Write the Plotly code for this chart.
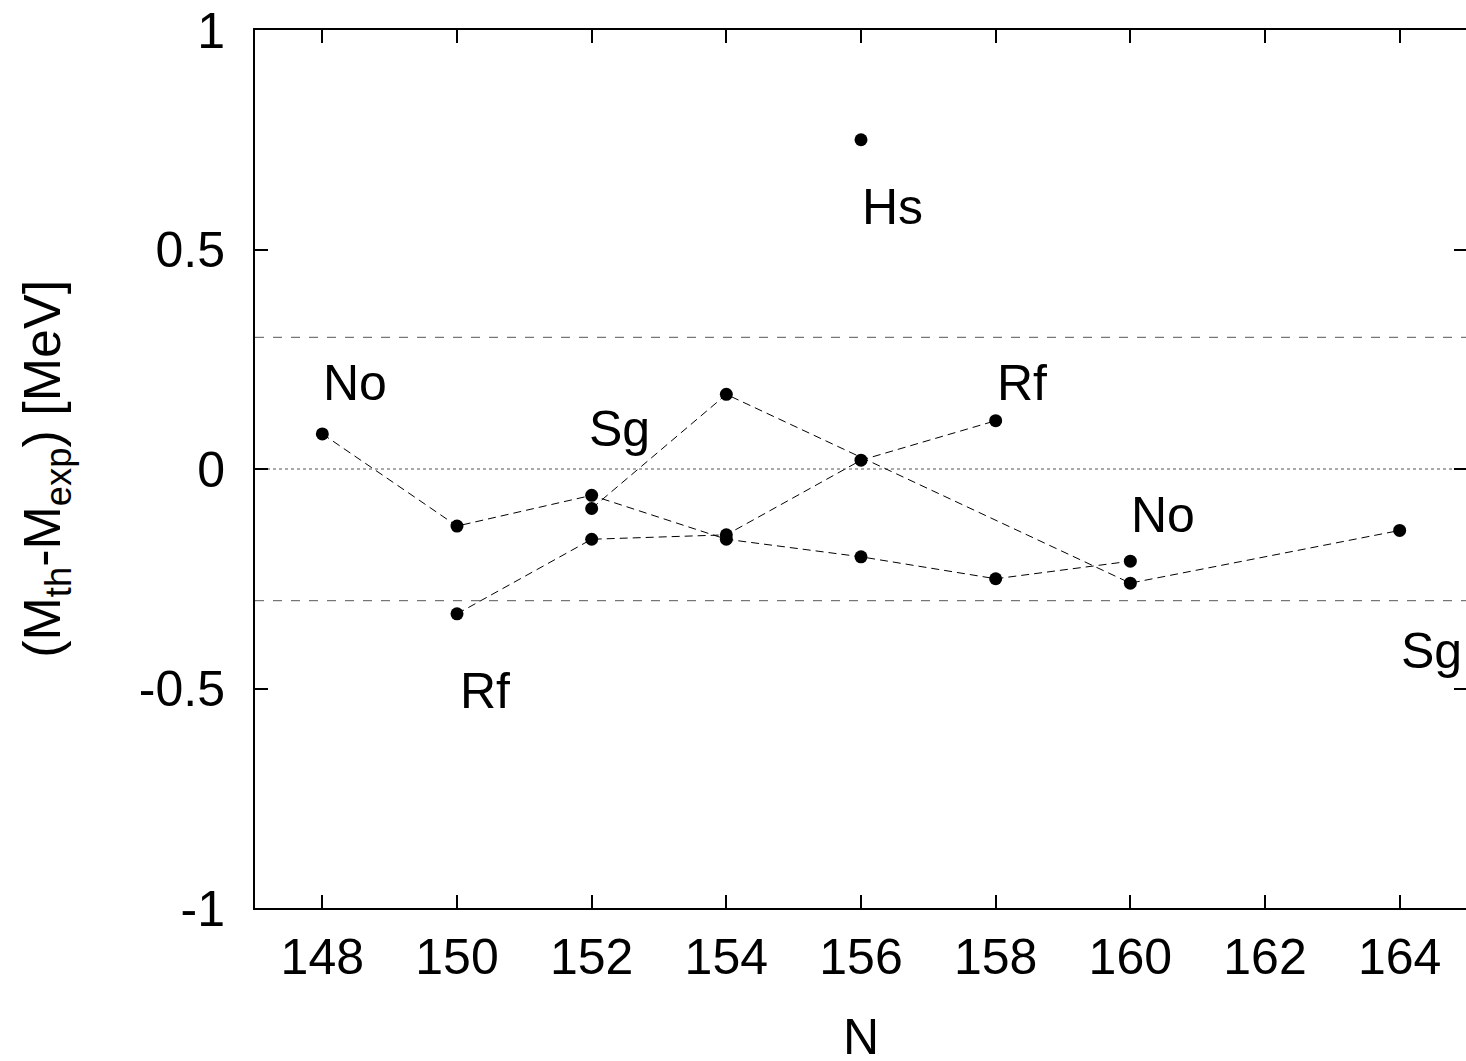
import plotly.graph_objects as go

# Data
no_N = [148, 150, 152, 154, 156, 158, 160]
no_dM = [0.08, -0.13, -0.06, -0.16, -0.20, -0.25, -0.21]
rf_N = [150, 152, 154, 156, 158]
rf_dM = [-0.33, -0.16, -0.15, 0.02, 0.11]
sg_N = [152, 154, 160, 164]
sg_dM = [-0.09, 0.17, -0.26, -0.14]
hs_N = [156]
hs_dM = [0.75]

labels = ["No", "Rf", "Sg", "Rf", "No", "Sg", "Hs"]
label_x = [148.49, 158.39, 152.42, 150.42, 160.48, 164.47, 156.47]
label_y = [0.196, 0.196, 0.091, -0.506, -0.105, -0.415, 0.597]

x_ticks = [148, 150, 152, 154, 156, 158, 160, 162, 164]
y_ticks = [-1, -0.5, 0, 0.5, 1]
y_ticklabels = ["-1", "-0.5", "0", "0.5", "1"]

FONT = "Liberation Sans, Arial, Helvetica, sans-serif"

fig = go.Figure()

# reference lines
for yv, dash in [(0.3, "dash"), (-0.3, "dash"), (0.0, "dot")]:
    fig.add_hline(y=yv, line=dict(color="#555555", width=1, dash=dash), layer="below")

line_style = dict(color="black", width=1, dash="8px,5px")
marker_style = dict(color="black", size=13)
for xs, ys in [(no_N, no_dM), (rf_N, rf_dM), (sg_N, sg_dM), (hs_N, hs_dM)]:
    fig.add_trace(go.Scatter(x=xs, y=ys, mode="lines+markers",
                             line=line_style, marker=marker_style,
                             showlegend=False, hoverinfo="skip"))

for t, lx, ly in zip(labels, label_x, label_y):
    fig.add_annotation(x=lx, y=ly, text=t, showarrow=False,
                       font=dict(family=FONT, size=50, color="black"),
                       xanchor="center", yanchor="middle")

# axis titles
fig.add_annotation(xref="paper", yref="paper", x=0.5, y=-0.147, text="N",
                   showarrow=False, font=dict(family=FONT, size=50, color="black"),
                   xanchor="center", yanchor="middle")
fig.add_annotation(xref="paper", yref="paper", x=-0.1726, y=0.5,
                   text="(M<sub>th</sub>-M<sub>exp</sub>) [MeV]",
                   textangle=-90,
                   showarrow=False, font=dict(family=FONT, size=52, color="black"),
                   xanchor="center", yanchor="middle")

axis_common = dict(showgrid=False, zeroline=False, showline=True, linecolor="black",
                   linewidth=2, mirror="allticks", ticks="inside", ticklen=13,
                   tickwidth=2, tickcolor="black", ticklabeloverflow="allow",
                   tickfont=dict(family=FONT, size=50, color="black"))

fig.update_xaxes(range=[147, 165], tickvals=x_ticks, ticklabelstandoff=4, **axis_common)
fig.update_yaxes(range=[-1, 1], tickvals=y_ticks, ticktext=y_ticklabels,
                 ticklabelstandoff=18, **axis_common)

fig.update_layout(width=1469, height=1061,
                  margin=dict(l=255, r=0, t=30, b=153),
                  plot_bgcolor="white", paper_bgcolor="white",
                  font=dict(family=FONT, color="black"))

fig.write_html("out.html", config={"displayModeBar": False},
               post_script="document.body.style.margin='0';document.body.style.overflow='hidden';")
